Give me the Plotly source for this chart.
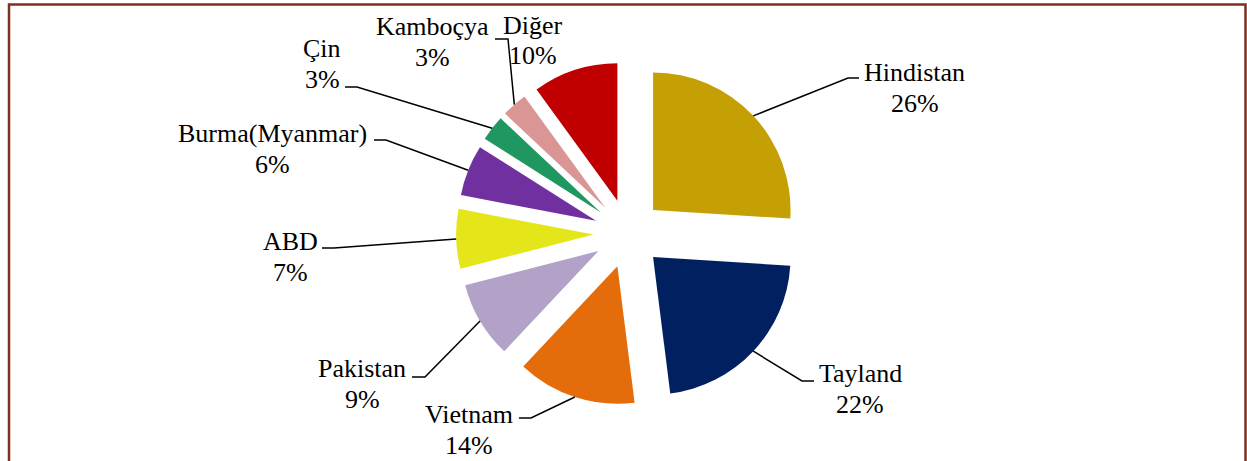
import math
import plotly.graph_objects as go

# ---- data ----
countries = ["Hindistan", "Tayland", "Vietnam", "Pakistan", "ABD",
             "Burma(Myanmar)", "Çin", "Kamboçya", "Diğer"]
shares = [26, 22, 14, 9, 7, 6, 3, 3, 10]
pct_labels = ["26%", "22%", "14%", "9%", "7%", "6%", "3%", "3%", "10%"]

# ---- style / layout ----
colors = ["#C5A005", "#002060", "#E46C0A", "#B3A2C7", "#E4E61A",
          "#7030A0", "#209660", "#D99694", "#C00000"]
W, H = 1247, 461
PULL = 0.25
DOM_X = [0.0072, 1.0]
DOM_Y = [0.1206, 0.8663]
FONT = "Liberation Serif"
FSIZE = 26
LINE_GAP = 31
# label layout in pixels: name centre (x, y), elbow (x, y), stub end x (None = no leader)
label_layout = [
    (915, 72, 848, 78, 859),
    (860, 373, 802, 381, 814),
    (469, 414, 531, 418, 519),
    (362, 368, 425, 377, 412),
    (290, 241, 334, 248, 322),
    (272, 133, 386, 140, 374),
    (322, 48, 357, 87, 345),
    (432, 27, 508, 39, 495),
    (533, 25, None, None, None),
]

fig = go.Figure(go.Pie(
    labels=countries, values=shares, sort=False, direction="clockwise",
    rotation=0, pull=[PULL] * len(shares), textinfo="none",
    marker=dict(colors=colors, line=dict(width=0)),
    domain=dict(x=DOM_X, y=DOM_Y), showlegend=False,
))

# replicate plotly pie geometry to find slice mid-arc points
w = W * (DOM_X[1] - DOM_X[0])
h = H * (DOM_Y[1] - DOM_Y[0])
cx = W * (DOM_X[0] + DOM_X[1]) / 2
cy = H * (1 - DOM_Y[0]) - h / 2
r = min(w / 2, h / 2) / (1 + PULL)

px = lambda x: x / W
py = lambda y: 1 - y / H

total = sum(shares)
cum = 0
shapes = []
annotations = []
for name, v, pct, lay in zip(countries, shares, pct_labels, label_layout):
    mid = 2 * math.pi * (cum + v / 2) / total
    cum += v
    dx, dy = math.sin(mid), -math.cos(mid)
    ax = cx + (1 + PULL) * r * dx
    ay = cy + (1 + PULL) * r * dy
    lx, ly, ex, ey, sx = lay
    if ex is not None:
        shapes.append(dict(
            type="path", xref="paper", yref="paper",
            path=f"M {px(ax)} {py(ay)} L {px(ex)} {py(ey)} L {px(sx)} {py(ey)}",
            line=dict(color="black", width=1.5),
        ))
    annotations.append(dict(x=px(lx), y=py(ly), xref="paper", yref="paper",
                            text=name, showarrow=False, xanchor="center", yanchor="middle",
                            font=dict(family=FONT, size=FSIZE, color="black")))
    annotations.append(dict(x=px(lx), y=py(ly + LINE_GAP), xref="paper", yref="paper",
                            text=pct, showarrow=False, xanchor="center", yanchor="middle",
                            font=dict(family=FONT, size=FSIZE, color="black")))

# outer frame
shapes.append(dict(type="rect", xref="paper", yref="paper",
                   x0=px(9), x1=px(1245.5), y0=py(475), y1=py(4.5),
                   line=dict(color="#7F2F1E", width=2.5)))

fig.update_layout(
    width=W, height=H, margin=dict(l=0, r=0, t=0, b=0),
    paper_bgcolor="white", plot_bgcolor="white",
    shapes=shapes, annotations=annotations,
)
fig.write_html(
    "out.html",
    config={"displayModeBar": False},
    post_script="document.body.style.margin='0';document.body.style.overflow='hidden';",
)
